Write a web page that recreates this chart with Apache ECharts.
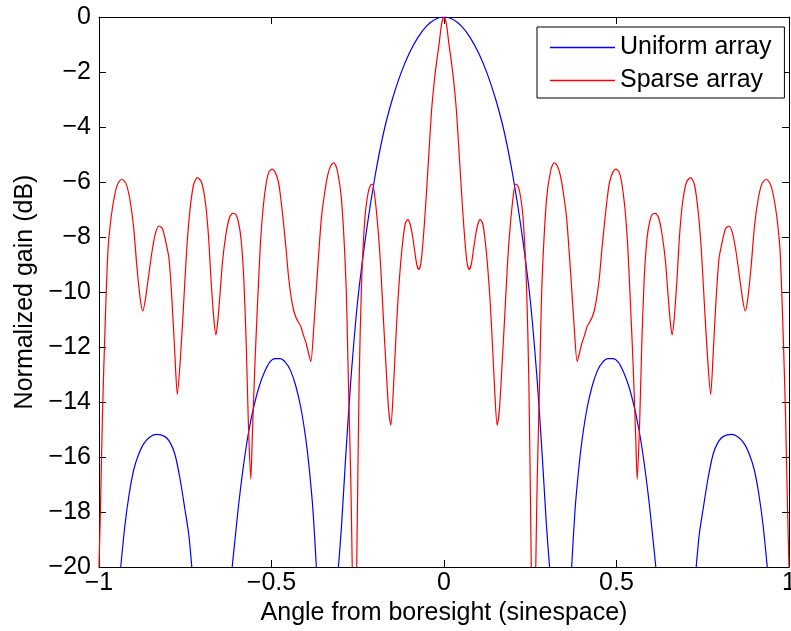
<!DOCTYPE html>
<html>
<head>
<meta charset="utf-8">
<title>Uniform vs sparse array pattern</title>
<script src="https://cdn.jsdelivr.net/npm/echarts@6/dist/echarts.min.js"></script>
<style>
  html, body { margin: 0; padding: 0; background: #fff; }
  #chart { width: 791px; height: 631px; }
</style>
</head>
<body>
<div id="chart"></div>
<script>
// Angle (sine space) and normalized gain (dB) for each pattern.
// '-' marks a gap where the pattern drops below the plotted range.
const uniformAngle = [
  -0.937, -0.925, -0.912, -0.900, -0.888, -0.872, -0.855, -0.833, -0.810, -0.795, -0.780, -0.765, -0.751, -0.740, -0.731,
  -0.700,
  -0.614, -0.605, -0.595, -0.580, -0.565, -0.550, -0.535, -0.520, -0.505, -0.490, -0.475, -0.460, -0.445, -0.430, -0.415, -0.400, -0.390, -0.380, -0.370,
  -0.340,
  -0.306, -0.297, -0.285, -0.270, -0.250, -0.225, -0.200, -0.175, -0.150, -0.125, -0.100, -0.075, -0.050, -0.025, 0,
  0.025, 0.050, 0.075, 0.100, 0.125, 0.150, 0.175, 0.200, 0.225, 0.250, 0.270, 0.285, 0.297, 0.306,
  0.340,
  0.370, 0.380, 0.390, 0.400, 0.415, 0.430, 0.445, 0.460, 0.475, 0.490, 0.505, 0.520, 0.535, 0.550, 0.565, 0.580, 0.595, 0.605, 0.614,
  0.700,
  0.731, 0.740, 0.751, 0.765, 0.780, 0.795, 0.810, 0.833, 0.855, 0.872, 0.888, 0.900, 0.912, 0.925, 0.937
];
const uniformGain = [
  -20, -18.5, -17.3, -16.5, -16.0, -15.55, -15.3, -15.18, -15.25, -15.45, -15.9, -16.8, -17.9, -18.8, -20,
  '-',
  -20, -18.9, -17.7, -16.2, -15.0, -14.1, -13.4, -12.9, -12.55, -12.42, -12.42, -12.55, -12.85, -13.4, -14.2, -15.4, -16.5, -17.9, -20,
  '-',
  -20, -18.5, -16.0, -13.2, -10.3, -7.8, -5.8, -4.2, -3.0, -2.05, -1.3, -0.73, -0.32, -0.08, 0,
  -0.08, -0.32, -0.73, -1.3, -2.05, -3.0, -4.2, -5.8, -7.8, -10.3, -13.2, -16.0, -18.5, -20,
  '-',
  -20, -17.9, -16.5, -15.4, -14.2, -13.4, -12.85, -12.55, -12.42, -12.42, -12.55, -12.9, -13.4, -14.1, -15.0, -16.2, -17.7, -18.9, -20,
  '-',
  -20, -18.8, -17.9, -16.8, -15.9, -15.45, -15.25, -15.18, -15.3, -15.55, -16.0, -16.5, -17.3, -18.5, -20
];

const sparseAngle = [
  -1.000, -0.996, -0.990, -0.983, -0.974, -0.965, -0.955, -0.945, -0.934, -0.922, -0.911, -0.900, -0.890, -0.880, -0.873,
  -0.866, -0.856, -0.846, -0.836, -0.826, -0.816, -0.806, -0.797, -0.788, -0.780, -0.773, -0.764, -0.755, -0.746, -0.737,
  -0.726, -0.715, -0.703, -0.692, -0.683, -0.675, -0.667, -0.661, -0.656, -0.650, -0.642, -0.632, -0.622, -0.613, -0.606,
  -0.597, -0.588, -0.580, -0.573, -0.567, -0.560, -0.555, -0.548, -0.540, -0.532, -0.524, -0.516, -0.508, -0.498, -0.489,
  -0.480, -0.474, -0.466, -0.458, -0.451, -0.444, -0.437, -0.430, -0.422, -0.415, -0.408, -0.400, -0.393, -0.386, -0.377,
  -0.369, -0.362, -0.355, -0.346, -0.337, -0.328, -0.319, -0.309, -0.297, -0.284, -0.277, -0.270, -0.266,
  -0.260,
  -0.253, -0.246, -0.239, -0.229, -0.220, -0.213, -0.207, -0.199, -0.190, -0.183, -0.176, -0.168, -0.161, -0.154, -0.147,
  -0.140, -0.133, -0.126, -0.119, -0.112, -0.105, -0.099, -0.092, -0.085, -0.079, -0.073, -0.067, -0.061, -0.054, -0.045,
  -0.036, -0.027, -0.020, -0.014, -0.007, 0,
  0.007, 0.014, 0.020, 0.027, 0.036, 0.045, 0.054, 0.061, 0.067, 0.073, 0.079, 0.085, 0.092, 0.099, 0.105,
  0.112, 0.119, 0.126, 0.133, 0.140, 0.147, 0.154, 0.161, 0.168, 0.176, 0.183, 0.190, 0.199, 0.207, 0.213,
  0.220, 0.229, 0.239, 0.246, 0.253,
  0.260,
  0.266, 0.270, 0.277, 0.284, 0.297, 0.309, 0.319, 0.328, 0.337, 0.346, 0.355, 0.362, 0.369, 0.377, 0.386,
  0.393, 0.400, 0.408, 0.415, 0.422, 0.430, 0.437, 0.444, 0.451, 0.458, 0.466, 0.474, 0.480, 0.489, 0.498,
  0.508, 0.516, 0.524, 0.532, 0.540, 0.548, 0.555, 0.560, 0.567, 0.573, 0.580, 0.588, 0.597, 0.606, 0.613,
  0.622, 0.632, 0.642, 0.650, 0.656, 0.661, 0.667, 0.675, 0.683, 0.692, 0.703, 0.715, 0.726, 0.737, 0.746,
  0.755, 0.764, 0.773, 0.780, 0.788, 0.797, 0.806, 0.816, 0.826, 0.836, 0.846, 0.856, 0.866, 0.873, 0.880,
  0.890, 0.900, 0.911, 0.922, 0.934, 0.945, 0.955, 0.965, 0.974, 0.983, 0.990, 0.996, 1.000
];
const sparseGain = [
  -20, -18.0, -14.5, -11.5, -8.47, -7.3, -6.5, -6.05, -5.9, -6.05, -6.6, -7.6, -9.1, -10.3, -10.69,
  -10.3, -9.4, -8.5, -7.85, -7.6, -7.7, -8.2, -8.8, -10.4, -12.3, -13.72, -12.4, -10.5, -8.5, -7.1,
  -6.1, -5.84, -6.0, -6.7, -7.9, -9.6, -11.0, -11.56, -11.1, -10.2, -8.9, -7.9, -7.3, -7.14, -7.15,
  -7.4, -8.1, -9.6, -12.0, -14.8, -16.81, -15.0, -12.6, -10.3, -8.2, -6.9, -6.1, -5.65, -5.53, -5.65,
  -6.0, -6.5, -7.4, -8.4, -9.4, -10.1, -10.6, -10.9, -11.1, -11.25, -11.55, -11.85, -12.2, -12.53, -11.2,
  -9.68, -8.4, -7.26, -6.4, -5.75, -5.4, -5.30, -5.6, -6.65, -9.7, -13.3, -16.95, -20,
  '-',
  -20, -13.3, -9.7, -7.26, -6.4, -6.12, -6.08, -6.7, -7.9, -9.2, -10.9, -12.7, -14.2, -14.84, -13.6,
  -11.8, -10.2, -9.0, -8.1, -7.5, -7.37, -7.5, -7.9, -8.5, -9.0, -9.18, -8.95, -8.2, -7.0, -5.2,
  -3.4, -2.2, -1.5, -0.96, -0.25, 0,
  -0.25, -0.96, -1.5, -2.2, -3.4, -5.2, -7.0, -8.2, -8.95, -9.18, -9.0, -8.5, -7.9, -7.5, -7.37,
  -7.5, -8.1, -9.0, -10.2, -11.8, -13.6, -14.84, -14.2, -12.7, -10.9, -9.2, -7.9, -6.7, -6.08, -6.12,
  -6.4, -7.26, -9.7, -13.3, -20,
  '-',
  -20, -16.95, -13.3, -9.7, -6.65, -5.6, -5.30, -5.4, -5.75, -6.4, -7.26, -8.4, -9.68, -11.2, -12.53,
  -12.2, -11.85, -11.55, -11.25, -11.1, -10.9, -10.6, -10.1, -9.4, -8.4, -7.4, -6.5, -6.0, -5.65, -5.53,
  -5.65, -6.1, -6.9, -8.2, -10.3, -12.6, -15.0, -16.81, -14.8, -12.0, -9.6, -8.1, -7.4, -7.15, -7.14,
  -7.3, -7.9, -8.9, -10.2, -11.1, -11.56, -11.0, -9.6, -7.9, -6.7, -6.0, -5.84, -6.1, -7.1, -8.5,
  -10.5, -12.4, -13.72, -12.3, -10.4, -8.8, -8.2, -7.7, -7.6, -7.85, -8.5, -9.4, -10.3, -10.69, -10.3,
  -9.1, -7.6, -6.6, -6.05, -5.9, -6.05, -6.5, -7.3, -8.47, -11.5, -14.5, -18.0, -20
];

const seriesNames = ['Uniform array', 'Sparse array'];
const xTickLabels = ['\u22121', '\u22120.5', '0', '0.5', '1'];
const yTickLabels = ['\u221220', '\u221218', '\u221216', '\u221214', '\u221212', '\u221210',
                     '\u22128', '\u22126', '\u22124', '\u22122', '0'];

const FONT = '"Liberation Sans", Arial, Helvetica, sans-serif';
const FONT_SIZE = 25;
const AXIS_COLOR = '#000';

const pairs = (xs, ys) => xs.map((x, i) => [x, ys[i]]);

function xLabel(v) {
  const idx = Math.round((v + 1) / 0.5);
  return xTickLabels[idx] !== undefined ? xTickLabels[idx] : '';
}
function yLabel(v) {
  const idx = Math.round((v + 20) / 2);
  return yTickLabels[idx] !== undefined ? yTickLabels[idx] : '';
}

const frameAxis = (extra) => Object.assign({
  type: 'value',
  axisLine: { show: true, onZero: false, lineStyle: { color: AXIS_COLOR, width: 1 } },
  axisTick: { show: true, inside: true, length: 7, lineStyle: { color: AXIS_COLOR, width: 1 } },
  splitLine: { show: false },
  axisLabel: { show: false }
}, extra);

const chart = echarts.init(document.getElementById('chart'), null, { renderer: 'canvas' });

chart.setOption({
  animation: false,
  backgroundColor: '#fff',
  textStyle: { fontFamily: FONT },
  grid: { left: 99, right: 2, top: 17, bottom: 64, containLabel: false, outerBoundsMode: 'none' },
  xAxis: [
    frameAxis({
      position: 'bottom', min: -1, max: 1, interval: 0.5,
      axisLabel: {
        show: true, formatter: xLabel, fontSize: FONT_SIZE, color: '#000', fontFamily: FONT,
        margin: 4, showMinLabel: true, showMaxLabel: true
      },
      name: 'Angle from boresight (sinespace)',
      nameLocation: 'middle', nameGap: 34,
      nameTextStyle: { fontSize: FONT_SIZE, color: '#000', fontFamily: FONT }
    }),
    frameAxis({ position: 'top', min: -1, max: 1, interval: 0.5 })
  ],
  yAxis: [
    frameAxis({
      position: 'left', min: -20, max: 0, interval: 2,
      axisLabel: {
        show: true, formatter: yLabel, fontSize: FONT_SIZE, color: '#000', fontFamily: FONT,
        margin: 8, showMinLabel: true, showMaxLabel: true
      },
      name: 'Normalized gain (dB)',
      nameLocation: 'middle', nameGap: 56, nameRotate: 90,
      nameTextStyle: { fontSize: FONT_SIZE, color: '#000', fontFamily: FONT }
    }),
    frameAxis({ position: 'right', min: -20, max: 0, interval: 2 })
  ],
  legend: {
    orient: 'vertical',
    left: 537, top: 27,
    padding: [8, 13, 5, 13],
    itemGap: 8,
    icon: 'rect',
    itemWidth: 65, itemHeight: 1.5,
    backgroundColor: '#fff',
    borderColor: '#000', borderWidth: 1,
    textStyle: { fontSize: FONT_SIZE, lineHeight: 24, color: '#000', fontFamily: FONT },
    data: seriesNames
  },
  series: [
    {
      name: seriesNames[0], type: 'line', xAxisIndex: 0, yAxisIndex: 0,
      data: pairs(uniformAngle, uniformGain),
      symbol: 'none', connectNulls: false, clip: true,
      smooth: 0.25,
      lineStyle: { color: '#0000ff', width: 1.2 }, itemStyle: { color: '#0000ff' }
    },
    {
      name: seriesNames[1], type: 'line', xAxisIndex: 0, yAxisIndex: 0,
      data: pairs(sparseAngle, sparseGain),
      symbol: 'none', connectNulls: false, clip: true,
      smooth: 0.25,
      lineStyle: { color: '#ff0000', width: 1.2 }, itemStyle: { color: '#ff0000' }
    }
  ]
});
</script>
</body>
</html>
